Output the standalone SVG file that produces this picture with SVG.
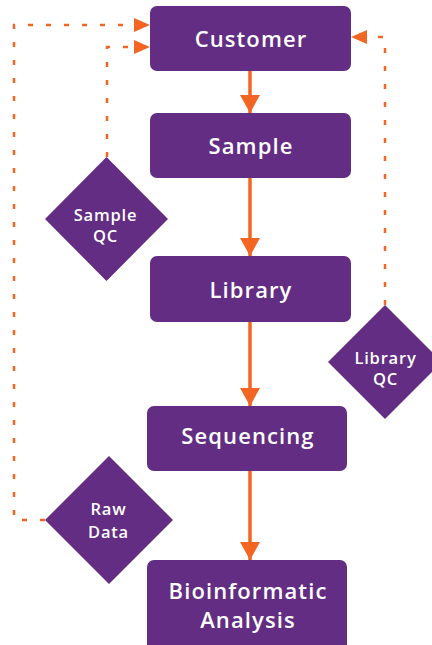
<svg xmlns="http://www.w3.org/2000/svg" width="432" height="645" viewBox="0 0 432 645">
<defs>
<style>
.box{fill:#622D82;}
.lbl{font-family:"Open Sans","Liberation Sans",sans-serif;font-weight:600;fill:#FFFFFF;text-anchor:middle;}
.big{font-size:22px;letter-spacing:1.1px;}
.small{font-size:16.5px;letter-spacing:0.8px;}
.solid{stroke:#F26522;stroke-width:3.5;fill:none;}
.dash{stroke:#F26522;stroke-width:2.5;fill:none;stroke-dasharray:5 13;}
</style>
<marker id="ah" markerUnits="userSpaceOnUse" markerWidth="20" markerHeight="20" viewBox="0 0 18 20" refX="18" refY="10" orient="auto">
<path d="M0,0 L18,10 L0,20 Z" fill="#F26522"/>
</marker>
<marker id="ahs" markerUnits="userSpaceOnUse" markerWidth="16" markerHeight="14" viewBox="0 0 16 14" refX="16" refY="7" orient="auto">
<path d="M0,0 L16,7 L0,14 Z" fill="#F26522"/>
</marker>
</defs>
<rect width="432" height="645" fill="#FFFFFF"/>
<g id="connectors">
<line class="solid" x1="250" y1="71" x2="250" y2="113" marker-end="url(#ah)"/>
<line class="solid" x1="250" y1="178" x2="250" y2="256" marker-end="url(#ah)"/>
<line class="solid" x1="250" y1="322" x2="250" y2="406" marker-end="url(#ah)"/>
<line class="solid" x1="250" y1="471" x2="250" y2="560" marker-end="url(#ah)"/>
<path class="dash" d="M45,520 L14,520 L14,25 L150,25" marker-end="url(#ahs)"/>
<path class="dash" d="M107,157 L107,47 L150,47" marker-end="url(#ahs)"/>
<path class="dash" d="M385,305 L385,37 L351,37" marker-end="url(#ahs)"/>
</g>
<g id="customer">
<rect class="box" x="150" y="6" width="201" height="65" rx="7"/>
<text class="lbl big" x="251" y="47">Customer</text>
</g>
<g id="sample">
<rect class="box" x="150" y="113" width="201" height="65" rx="7"/>
<text class="lbl big" x="251" y="154">Sample</text>
</g>
<g id="library">
<rect class="box" x="150" y="256" width="201" height="66" rx="7"/>
<text class="lbl big" x="251" y="298">Library</text>
</g>
<g id="sequencing">
<rect class="box" x="147" y="406" width="200" height="65" rx="7"/>
<text class="lbl big" x="248" y="444">Sequencing</text>
</g>
<g id="bioinformatic">
<rect class="box" x="147" y="560" width="200" height="92" rx="7"/>
<text class="lbl big" x="248" y="599">Bioinformatic</text>
<text class="lbl big" x="248" y="628">Analysis</text>
</g>
<g id="sampleqc">
<polygon class="box" points="106.5,157 168,219 106.5,281 45,219"/>
<text class="lbl small" x="105.5" y="221">Sample</text>
<text class="lbl small" x="105.5" y="242">QC</text>
</g>
<g id="libraryqc">
<polygon class="box" points="385,305 442,362 385,419 328,362"/>
<text class="lbl small" x="385.5" y="364">Library</text>
<text class="lbl small" x="385.5" y="385">QC</text>
</g>
<g id="rawdata">
<polygon class="box" points="109,456 173,520 109,584 45,520"/>
<text class="lbl small" x="108.5" y="515">Raw</text>
<text class="lbl small" x="108.5" y="538">Data</text>
</g>
</svg>
